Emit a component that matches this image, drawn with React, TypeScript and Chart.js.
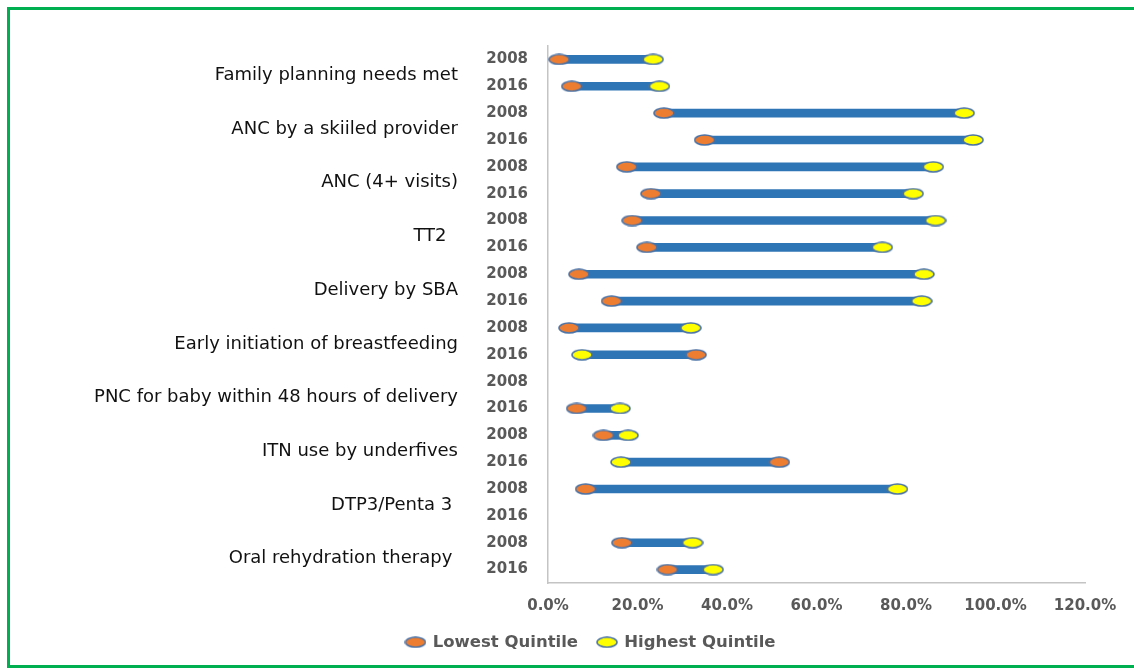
import React, { useEffect, useRef } from "react";
import { Chart, registerables } from "chart.js";

Chart.register(...registerables);

// ---- data ----
const groups = [
  "Family planning needs met",
  "ANC by a skiiled provider",
  "ANC (4+ visits)",
  "TT2  ",
  "Delivery by SBA",
  "Early initiation of breastfeeding",
  "PNC for baby within 48 hours of delivery",
  "ITN use by underfives",
  "DTP3/Penta 3 ",
  "Oral rehydration therapy ",
];

const years = [
  "2008", "2016", "2008", "2016", "2008", "2016", "2008", "2016", "2008", "2016",
  "2008", "2016", "2008", "2016", "2008", "2016", "2008", "2016", "2008", "2016",
];

const lowest: (number | null)[] = [
  2.5, 5.3, 25.9, 35.0, 17.6, 23.0, 18.8, 22.1, 6.9, 14.2,
  4.7, 33.1, null, 6.4, 12.4, 51.7, 8.4, null, 16.5, 26.7,
];

const highest: (number | null)[] = [
  23.5, 24.9, 93.0, 95.0, 86.1, 81.6, 86.6, 74.7, 84.0, 83.5,
  31.9, 7.6, null, 16.1, 17.9, 16.3, 78.1, null, 32.3, 36.9,
];

const xTicks = [0, 20, 40, 60, 80, 100, 120];

const seriesNames = ["Lowest Quintile", "Highest Quintile"];

// ---- styling helpers ----
function ellipseMarker(fill: string): HTMLCanvasElement {
  const c = document.createElement("canvas");
  c.width = 22;
  c.height = 12;
  const g = c.getContext("2d")!;
  g.beginPath();
  g.ellipse(11, 6, 10, 5, 0, 0, Math.PI * 2);
  g.fillStyle = fill;
  g.fill();
  g.lineWidth = 1.5;
  g.strokeStyle = "#4a72a6";
  g.stroke();
  return c;
}

const groupLabelPlugin = {
  id: "groupLabels",
  afterDraw(chart: any) {
    const y = chart.scales.y;
    const ctx = chart.ctx as CanvasRenderingContext2D;
    ctx.save();
    ctx.font = '18px "DejaVu Sans"';
    ctx.fillStyle = "#111111";
    ctx.textAlign = "right";
    ctx.textBaseline = "middle";
    groups.forEach((g, i) => {
      const py =
        (y.getPixelForValue(2 * i) + y.getPixelForValue(2 * i + 1)) / 2 + 2.5;
      ctx.fillText(g, chart.chartArea.left - 90, py);
    });
    ctx.restore();
  },
};

export default function App() {
  const ref = useRef<HTMLCanvasElement | null>(null);

  useEffect(() => {
    if (!ref.current) return;
    const orange = ellipseMarker("#ED7D31");
    const yellow = ellipseMarker("#FFFF00");
    const axisGray = "#c4c4c4";
    const tickFont = { family: '"DejaVu Sans"', size: 15, weight: "bold" as const };

    const chart = new Chart(ref.current, {
      type: "bar",
      data: {
        labels: years,
        datasets: [
          {
            type: "line",
            label: seriesNames[0],
            data: lowest,
            indexAxis: "y",
            showLine: false,
            pointStyle: orange,
            pointRadius: 5,
            pointHoverRadius: 5,
            order: 2,
          } as any,
          {
            type: "line",
            label: seriesNames[1],
            data: highest,
            indexAxis: "y",
            showLine: false,
            pointStyle: yellow,
            pointRadius: 5,
            pointHoverRadius: 5,
            order: 1,
          } as any,
          {
            type: "bar",
            label: "range",
            data: years.map((_, i) =>
              lowest[i] == null || highest[i] == null
                ? null
                : [lowest[i] as number, highest[i] as number]
            ),
            backgroundColor: "#2E75B6",
            borderWidth: 0,
            borderSkipped: false,
            barThickness: 8,
            order: 3,
          } as any,
        ],
      },
      options: {
        indexAxis: "y",
        responsive: false,
        animation: false,
        layout: { padding: { left: 48, right: 0, top: 46, bottom: 7.5 } },
        plugins: {
          tooltip: { enabled: false },
          legend: {
            display: true,
            position: "bottom",
            labels: {
              usePointStyle: true,
              pointStyleWidth: 18,
              padding: 20,
              color: "#595959",
              font: { family: '"DejaVu Sans"', size: 16.5, weight: "bold" },
              filter: (item: any) => item.datasetIndex < 2,
              sort: (a: any, b: any) => a.datasetIndex - b.datasetIndex,
            },
          },
        },
        scales: {
          x: {
            type: "linear",
            min: 0,
            max: 120,
            afterBuildTicks: (s: any) => {
              s.ticks = xTicks.map((v) => ({ value: v }));
            },
            afterFit: (s: any) => {
              s.height = 31;
            },
            grid: { display: false, drawTicks: false },
            border: { display: true, color: axisGray, width: 1.5 },
            ticks: {
              padding: 14,
              color: "#595959",
              font: tickFont,
              callback: (v: any) => Number(v).toFixed(1) + "%",
            },
          },
          y: {
            type: "category",
            offset: true,
            afterFit: (s: any) => {
              s.width = 500;
            },
            grid: { display: false, drawTicks: false },
            border: { display: true, color: axisGray, width: 1.5 },
            ticks: {
              padding: 20,
              color: "#595959",
              font: tickFont,
              autoSkip: false,
            },
          },
          yRight: {
            type: "linear",
            position: "right",
            display: true,
            afterFit: (s: any) => {
              s.width = 49;
            },
            grid: { display: false, drawTicks: false },
            border: { display: false },
            ticks: { display: false },
          },
        },
      },
      plugins: [groupLabelPlugin],
    });

    return () => chart.destroy();
  }, []);

  const green = "3px solid #00B050";
  return (
    <div>
      <div
        style={{
          position: "fixed",
          left: 7,
          top: 7,
          width: 1140,
          height: 661,
          boxSizing: "border-box",
          borderLeft: green,
          borderTop: green,
          borderBottom: green,
          background: "#ffffff",
        }}
      />
      <canvas
        ref={ref}
        width={1134}
        height={668}
        style={{ position: "fixed", left: 0, top: 0, width: 1134, height: 668 }}
      />
    </div>
  );
}
